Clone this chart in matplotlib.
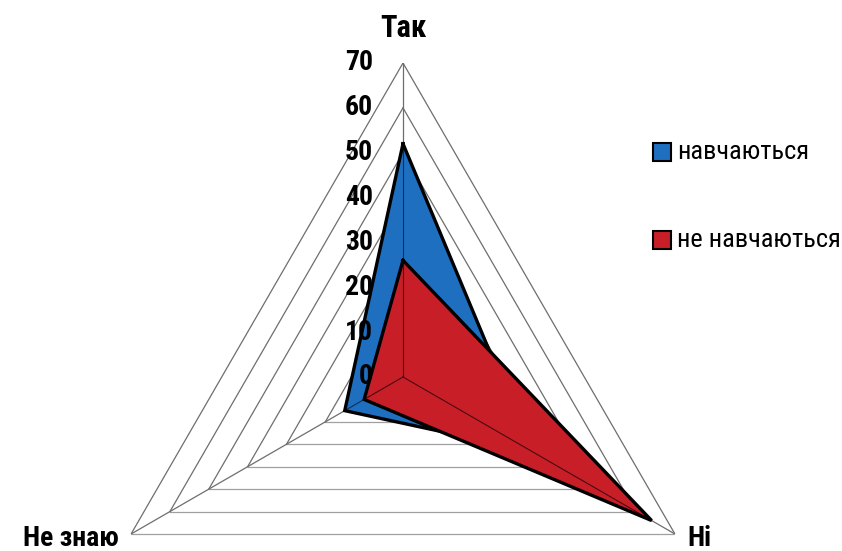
import numpy as np
import matplotlib.pyplot as plt
from matplotlib.patches import Rectangle
from matplotlib.transforms import offset_copy

plt.rcParams['font.family'] = ['Roboto Condensed', 'DejaVu Sans']

# дані
categories = ['Так', 'Ні', 'Не знаю']
series_names = ['навчаються', 'не навчаються']
study = [52, 33, 15]
no_study = [26, 64, 10]
ticks = [0, 10, 20, 30, 40, 50, 60, 70]

colors = ['#1f6fc1', '#c81e28']
facet = ['#0b2f5a', '#4a0a0e']

W, H = 842, 551
fig = plt.figure(figsize=(W / 100, H / 100), dpi=100)
# центр (403, 377) px, радіус 70 -> 314 px
cx, cy, R = 403, 377, 314
ax = fig.add_axes([(cx - R) / W, (H - cy - R) / H, 2 * R / W, 2 * R / H], projection='polar')
ax.set_theta_offset(np.pi / 2)
ax.set_theta_direction(-1)
ax.set_ylim(0, ticks[-1])
ax.grid(False)
ax.spines['polar'].set_visible(False)
ax.set_xticks([])
ax.set_yticks([])
ax.patch.set_visible(False)

angles = np.linspace(0, 2 * np.pi, len(categories), endpoint=False)

# сітка - трикутники
for r in ticks[1:]:
    for i in range(len(angles)):
        j = (i + 1) % len(angles)
        c = '#a0a0a0' if i == 1 else '#6e6e6e'
        ax.plot([angles[i], angles[j]], [r, r], color=c, lw=0.9, zorder=1)
for a in angles:
    ax.plot([a, a], [0, ticks[-1]], color='#6e6e6e', lw=0.9, zorder=1)

# ряди даних
for k, vals in enumerate([study, no_study]):
    th = np.append(angles, angles[0])
    rr = np.append(vals, vals[0])
    ax.fill(th, rr, color=colors[k], zorder=3 + k * 2)
    for a, v in zip(angles, vals):
        ax.plot([a, a], [0, v], color=facet[k], lw=0.8, zorder=3 + k * 2)
    ax.plot(th, rr, color='black', lw=2.4, zorder=4 + k * 2, solid_joinstyle='miter')

# підписи шкали
tr = offset_copy(ax.transData, fig=fig, x=-30, y=0, units='dots')
for t in ticks:
    ax.text(0, t, str(t), transform=tr, ha='right', va='center',
            fontsize=20, fontweight='bold', zorder=10)

# підписи категорій
offs = [(0, 35, 'center', 'center'), (12, -18, 'left', 'bottom'), (-12, -18, 'right', 'bottom')]
for a, name, (dx, dy, ha, va) in zip(angles, categories, offs):
    trc = offset_copy(ax.transData, fig=fig, x=dx, y=dy, units='dots')
    ax.text(a, ticks[-1], name, transform=trc, ha=ha, va=va,
            fontsize=22 if name == 'Так' else 20, fontweight='bold')

# легенда
for k, (name, y) in enumerate(zip(series_names, [152, 240])):
    fig.add_artist(Rectangle((653 / W, 1 - (y + 9) / H), 18 / W, 18 / H,
                             transform=fig.transFigure, facecolor=colors[k],
                             edgecolor='black', lw=1.5))
    fig.text(677 / W, 1 - y / H, name, ha='left', va='center', fontsize=19)

fig.savefig('out.png', dpi=100)
